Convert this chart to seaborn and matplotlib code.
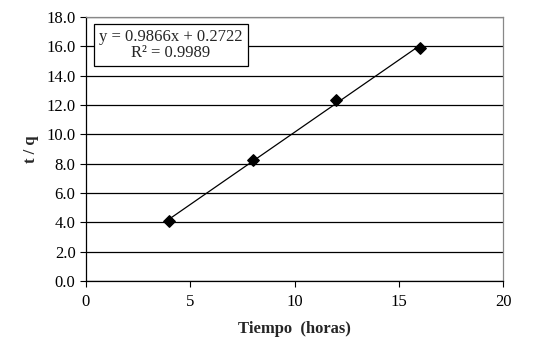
import numpy as np
import pandas as pd
import matplotlib
matplotlib.use("Agg")
import matplotlib.pyplot as plt
import seaborn as sns

# datos
tiempo = [4, 8, 12, 16]
t_q = [4.12, 8.22, 12.32, 15.88]
ecuacion = "y = 0.9866x + 0.2722\nR² = 0.9989"

df = pd.DataFrame({"Tiempo": tiempo, "tq": t_q})

sns.set_style("white")
plt.rcParams['font.family'] = ['Liberation Serif', 'DejaVu Serif']

fig = plt.figure(figsize=(5.34, 3.48), dpi=100)
ax = fig.add_axes([0.161, 0.1925, 0.781, 0.759])

# linea de tendencia + puntos
sns.regplot(data=df, x="Tiempo", y="tq", ax=ax, ci=None, marker="D",
            scatter_kws={"s": 34, "color": "black", "edgecolors": "black",
                         "alpha": 1, "zorder": 4},
            line_kws={"color": "black", "lw": 0.9})

ax.set_xlim(0, 20)
ax.set_ylim(0, 18)
ax.set_xticks(range(0, 21, 5))
ax.set_yticks(np.arange(0, 18.1, 2))
ax.set_yticklabels([f"{v:.1f}" for v in np.arange(0, 18.1, 2)])

ax.yaxis.grid(True, color="black", lw=0.9)
ax.set_axisbelow(True)
for s in ["top", "right"]:
    ax.spines[s].set_color("#888888")
    ax.spines[s].set_linewidth(0.9)
for s in ["left", "bottom"]:
    ax.spines[s].set_color("black")
    ax.spines[s].set_linewidth(0.9)

ax.tick_params(axis="both", direction="out", length=4, width=0.8,
               labelsize=12, colors="black", left=True, bottom=True)
ax.tick_params(axis="x", pad=5)

ax.set_xlabel("Tiempo  (horas)", fontsize=12, fontweight="bold", labelpad=8)
ax.set_ylabel("t / q", fontsize=12, fontweight="bold", labelpad=5)

ax.text(0.204, 0.955, ecuacion, transform=ax.transAxes, ha="center", va="top",
        fontsize=12, linespacing=1.05,
        bbox=dict(boxstyle="square,pad=0.3", fc="white", ec="black", lw=0.9))

fig.savefig("out.png", dpi=100)
